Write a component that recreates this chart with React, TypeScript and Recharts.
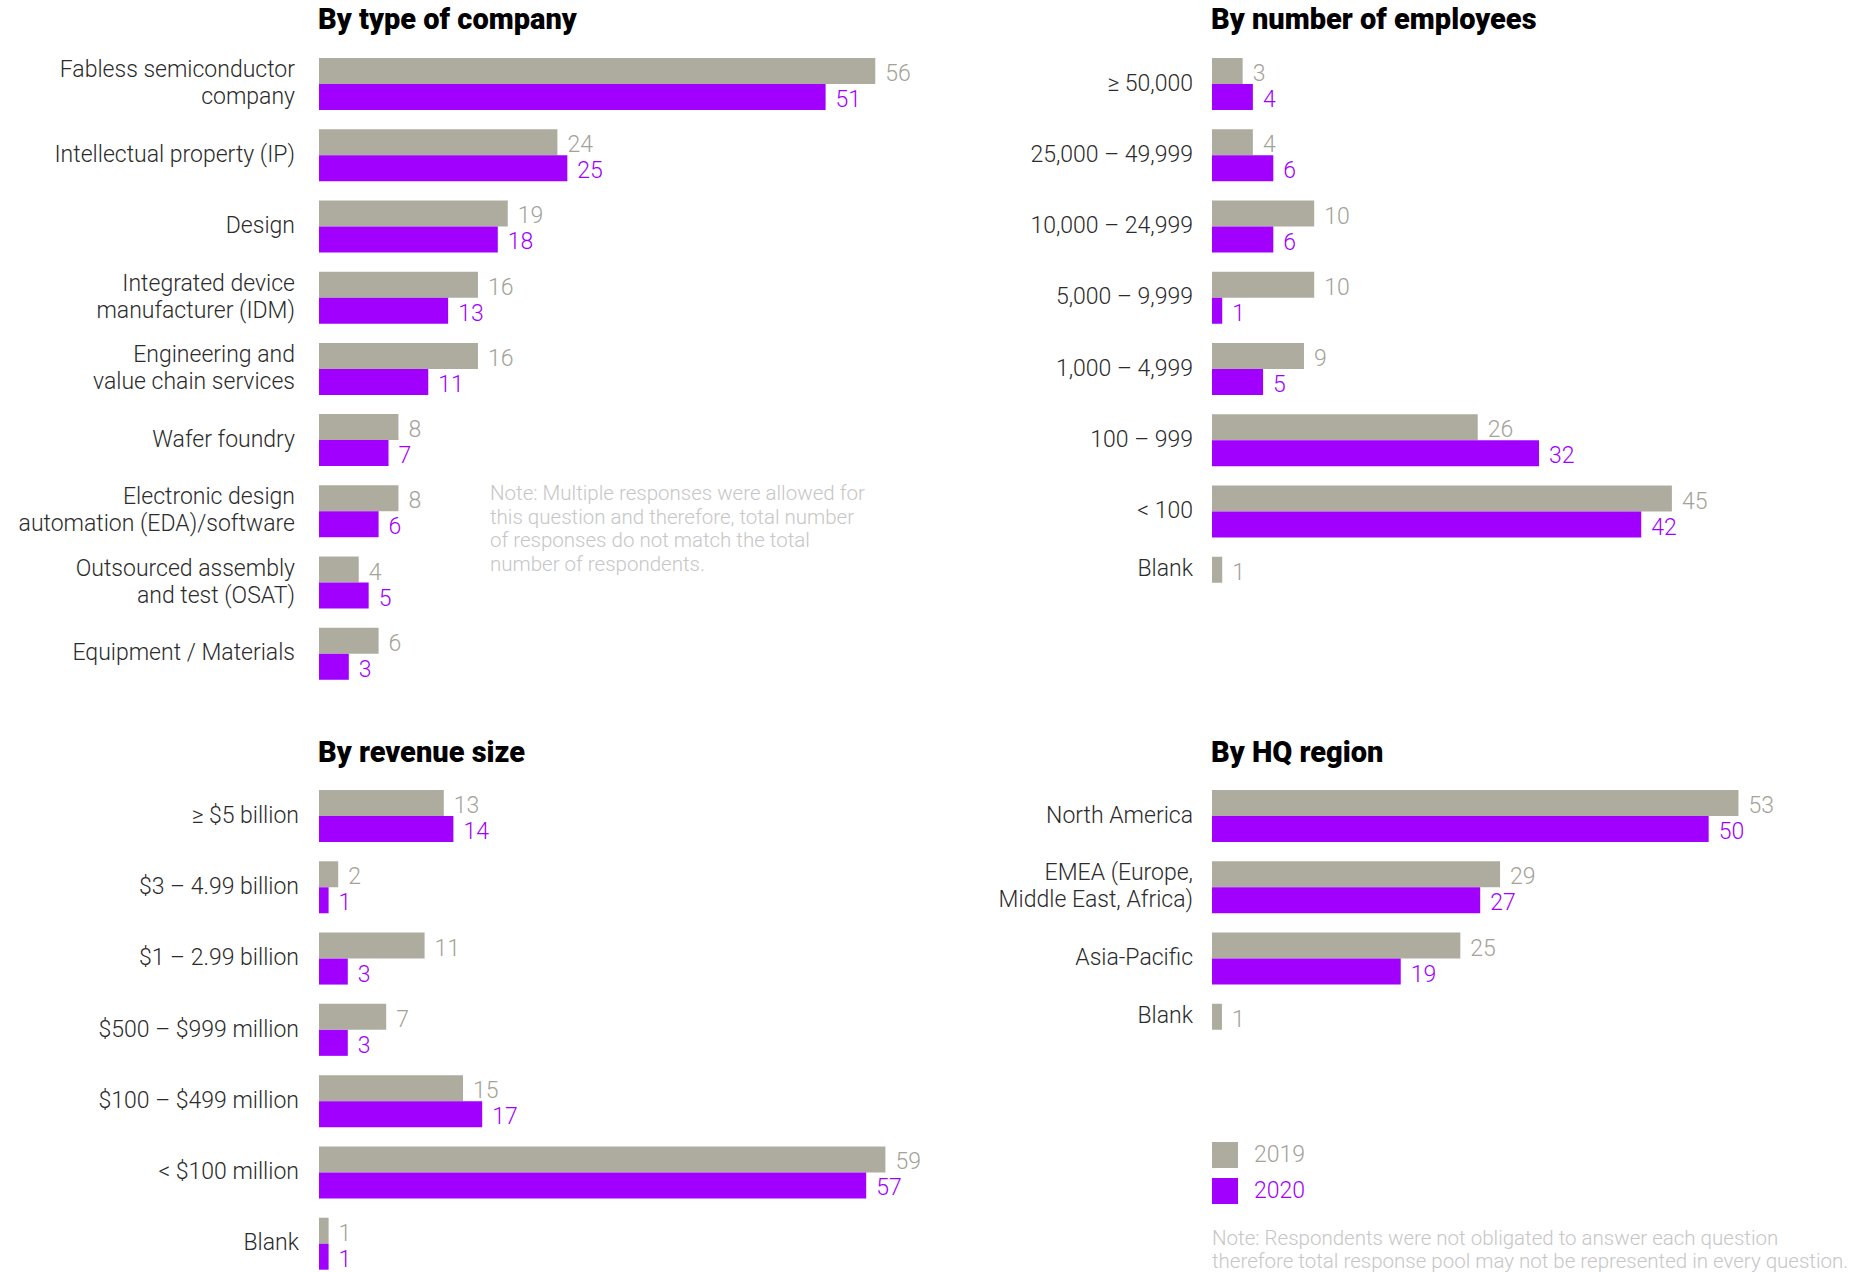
import React from 'react';
import { BarChart, Bar, XAxis, YAxis, LabelList } from 'recharts';

const GRAY = '#adac9f';
const GRAY_TEXT = '#a3a298';
const PURPLE = '#a100ff';
const FONT = 'Roboto, "Noto Sans", sans-serif';

const SERIES = ['2019', '2020'];

const typeCategories = [
  'Fabless semiconductor\ncompany', 'Intellectual property (IP)', 'Design',
  'Integrated device\nmanufacturer (IDM)', 'Engineering and\nvalue chain services', 'Wafer foundry',
  'Electronic design\nautomation (EDA)/software', 'Outsourced assembly\nand test (OSAT)', 'Equipment / Materials',
];
const type2019 = [56, 24, 19, 16, 16, 8, 8, 4, 6];
const type2020 = [51, 25, 18, 13, 11, 7, 6, 5, 3];

const employeeCategories = [
  '≥ 50,000', '25,000 – 49,999', '10,000 – 24,999', '5,000 – 9,999',
  '1,000 – 4,999', '100 – 999', '< 100', 'Blank',
];
const employee2019 = [3, 4, 10, 10, 9, 26, 45, 1];
const employee2020 = [4, 6, 6, 1, 5, 32, 42, null];

const revenueCategories = [
  '≥ $5 billion', '$3 – 4.99 billion', '$1 – 2.99 billion', '$500 – $999 million',
  '$100 – $499 million', '< $100 million', 'Blank',
];
const revenue2019 = [13, 2, 11, 7, 15, 59, 1];
const revenue2020 = [14, 1, 3, 3, 17, 57, 1];

const regionCategories = ['North America', 'EMEA (Europe,\nMiddle East, Africa)', 'Asia-Pacific', 'Blank'];
const region2019 = [53, 29, 25, 1];
const region2020 = [50, 27, 19, null];

const typeNote = [
  'Note: Multiple responses were allowed for',
  'this question and therefore, total number',
  'of responses do not match the total',
  'number of respondents.',
];
const bottomNote = [
  'Note: Respondents were not obligated to answer each question',
  'therefore total response pool may not be represented in every question.',
];

const BAR = 26;

const valueLabel = (color: string) => (props: any) => {
  const vb = props.viewBox ?? props;
  if (props.value == null) return null;
  const x = Number(vb.x) + Number(vb.width) + 10;
  const y = Number(vb.y) + Number(vb.height) / 2 + 10;
  return (
    <text x={x} y={y} fill={color} fontSize={23} fontFamily={FONT} fontWeight={300}>
      {props.value}
    </text>
  );
};

type PanelProps = {
  title: string;
  categories: string[];
  a: (number | null)[];
  b: (number | null)[];
  max: number;
  left: number;
  top: number;
  width: number;
  height: number;
  axisWidth: number;
  marginTop: number;
  marginRight: number;
  marginBottom: number;
  labelGap: number;
  titleTop: number;
};

const Panel: React.FC<PanelProps> = (p) => {
  const data = p.categories.map((name, i) => ({ name, v2019: p.a[i], v2020: p.b[i] }));
  const renderTick = (t: any) => {
    const lines = String(t.payload.value).split('\n');
    const row = data[t.payload.index ?? t.index];
    // rows with no 2020 value: label sits beside the lone gray bar
    const shift = row && row.v2020 == null ? -BAR / 2 : 0;
    const lh = 27;
    const start = Number(t.y) + shift + 7 - ((lines.length - 1) * lh) / 2;
    return (
      <text x={Number(t.x) - p.labelGap + 8} y={start} textAnchor="end" fill="#2b2b2b"
        fontSize={23} fontFamily={FONT} fontWeight={300}>
        {lines.map((l, i) => (
          <tspan key={i} x={Number(t.x) - p.labelGap + 8} y={start + i * lh}>{l}</tspan>
        ))}
      </text>
    );
  };
  return (
    <>
      <div style={{
        position: 'absolute', left: p.left + p.axisWidth - 1, top: p.titleTop, fontFamily: FONT,
        fontWeight: 900, fontSize: 29, lineHeight: 1, color: '#000', whiteSpace: 'nowrap',
      }}>{p.title}</div>
      <div style={{ position: 'absolute', left: p.left, top: p.top }}>
        <BarChart width={p.width} height={p.height} data={data} layout="vertical" barGap={0}
          margin={{ top: p.marginTop, right: p.marginRight, bottom: p.marginBottom, left: 0 }}>
          <XAxis type="number" hide domain={[0, p.max]} />
          <YAxis type="category" dataKey="name" width={p.axisWidth} interval={0}
            axisLine={false} tickLine={false} tick={renderTick} />
          <Bar dataKey="v2019" name={SERIES[0]} fill={GRAY} barSize={BAR} isAnimationActive={false}>
            <LabelList dataKey="v2019" content={valueLabel(GRAY_TEXT)} />
          </Bar>
          <Bar dataKey="v2020" name={SERIES[1]} fill={PURPLE} barSize={BAR} isAnimationActive={false}>
            <LabelList dataKey="v2020" content={valueLabel(PURPLE)} />
          </Bar>
        </BarChart>
      </div>
    </>
  );
};

export default function App() {
  return (
    <div style={{
      position: 'absolute', left: 0, top: 0, width: 1874, height: 1272, overflow: 'hidden',
      background: '#fff', fontFamily: FONT,
    }}>
      <Panel title="By type of company" categories={typeCategories} a={type2019} b={type2020} max={60}
        left={0} top={0} width={940} height={700} axisWidth={319} marginTop={48} marginRight={25}
        marginBottom={11} labelGap={24} titleTop={5} />
      <Panel title="By number of employees" categories={employeeCategories} a={employee2019} b={employee2020} max={50}
        left={940} top={0} width={934} height={640} axisWidth={272} marginTop={48} marginRight={151}
        marginBottom={22} labelGap={19} titleTop={5} />
      <Panel title="By revenue size" categories={revenueCategories} a={revenue2019} b={revenue2020} max={60}
        left={0} top={720} width={940} height={560} axisWidth={319} marginTop={60} marginRight={45}
        marginBottom={1} labelGap={20} titleTop={738} />
      <Panel title="By HQ region" categories={regionCategories} a={region2019} b={region2020} max={60}
        left={940} top={720} width={934} height={350} axisWidth={272} marginTop={60} marginRight={66}
        marginBottom={5} labelGap={19} titleTop={738} />

      <div style={{
        position: 'absolute', left: 490, top: 482, fontSize: 20.5, lineHeight: '23.5px',
        color: '#c6c6c6', fontWeight: 300, whiteSpace: 'nowrap',
      }}>
        {typeNote.map((l, i) => <div key={i}>{l}</div>)}
      </div>

      <div style={{ position: 'absolute', left: 1212, top: 1142 }}>
        {SERIES.map((s, i) => (
          <div key={s} style={{ display: 'flex', alignItems: 'center', height: 26, marginBottom: 10 }}>
            <div style={{ width: 26, height: 26, background: i === 0 ? GRAY : PURPLE }} />
            <span style={{
              marginLeft: 16, fontSize: 23, fontWeight: 300, lineHeight: '26px',
              color: i === 0 ? GRAY_TEXT : PURPLE,
            }}>{s}</span>
          </div>
        ))}
      </div>

      <div style={{
        position: 'absolute', left: 1212, top: 1227, fontSize: 20.5, lineHeight: '23px',
        color: '#c6c6c6', fontWeight: 300, whiteSpace: 'nowrap',
      }}>
        {bottomNote.map((l, i) => <div key={i}>{l}</div>)}
      </div>
    </div>
  );
}
